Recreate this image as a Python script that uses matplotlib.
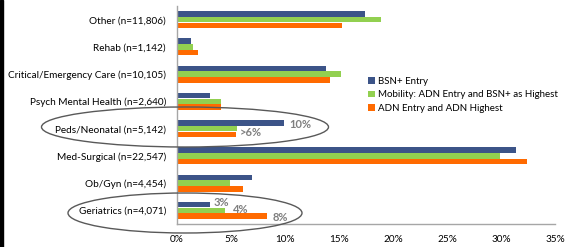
import matplotlib
matplotlib.use("Agg")
import matplotlib.pyplot as plt
from matplotlib.patches import Ellipse, Rectangle
import numpy as np

plt.rcParams['font.family'] = ['Lato', 'DejaVu Sans']

categories = ["Other (n=11,806)", "Rehab (n=1,142)", "Critical/Emergency Care (n=10,105)",
              "Psych Mental Health (n=2,640)", "Peds/Neonatal (n=5,142)", "Med-Surgical (n=22,547)",
              "Ob/Gyn (n=4,454)", "Geriatrics (n=4,071)"]
series_names = ["BSN+ Entry", "Mobility: ADN Entry and BSN+ as Highest", "ADN Entry and ADN Highest"]
bsn_entry = [17.4, 1.3, 13.8, 3.1, 9.9, 31.4, 6.9, 3.1]
mobility = [18.9, 1.5, 15.2, 4.1, 5.6, 29.9, 4.9, 4.4]
adn = [15.3, 1.9, 14.2, 4.1, 5.5, 32.4, 6.1, 8.3]
xticks = [0, 5, 10, 15, 20, 25, 30, 35]
colors = ["#3C5488", "#92D050", "#FF6A00"]

W, H = 565, 247
fig = plt.figure(figsize=(W/100, H/100), dpi=100)
ax = fig.add_axes([177/W, 1-224/H, (555-177)/W, (224-6)/H])

n = len(categories)
y = np.arange(n)
bh = 0.21
for i, (vals, c) in enumerate(zip([bsn_entry, mobility, adn], colors)):
    ax.barh(y + (i-1)*bh, vals, height=bh*0.95, color=c, label=series_names[i])

ax.set_ylim(n-0.5, -0.5)
ax.set_xlim(0, 35)
ax.set_yticks(y)
ax.set_yticklabels(categories, fontsize=7.2)
ax.set_xticks(xticks)
ax.set_xticklabels([f"{t}%" for t in xticks], fontsize=7.2)
ax.tick_params(axis='y', length=0, pad=8)
ax.tick_params(axis='x', length=0, pad=8)
for s in ['top', 'right']:
    ax.spines[s].set_visible(False)
for s in ['left', 'bottom']:
    ax.spines[s].set_color('#A6A6A6')
    ax.spines[s].set_linewidth(1.0)

leg = ax.legend(loc='upper left', bbox_to_anchor=((368-177)/(555-177), 1-(77-6)/218),
                frameon=False, fontsize=7.0, handlelength=0.7, handleheight=0.7,
                handletextpad=0.35, labelspacing=0.45, borderaxespad=0, borderpad=0)

gray = '#7F7F7F'
def px(xp, yp):
    return (xp/W, 1-yp/H)
ann = [("10%", 289, 124), (">6%", 240, 133), ("3%", 214, 202), ("4%", 233, 209), ("8%", 273, 217)]
for t, xp, yp in ann:
    fig.text(*px(xp, yp), t, color=gray, fontsize=8, fontweight='bold', va='center', ha='left')

e1 = Ellipse(px(185, 127), 287/W, 40/H, angle=0, fill=False, edgecolor='#595959', lw=1.0,
             transform=fig.transFigure)
e2 = Ellipse(px(185, 213), 234/W, 40/H, angle=0, fill=False, edgecolor='#595959', lw=1.0,
             transform=fig.transFigure)
fig.add_artist(e1)
fig.add_artist(e2)
fig.add_artist(Rectangle((0, 0), 3/W, 1, transform=fig.transFigure, color='black'))

fig.savefig("out.png", dpi=100)
